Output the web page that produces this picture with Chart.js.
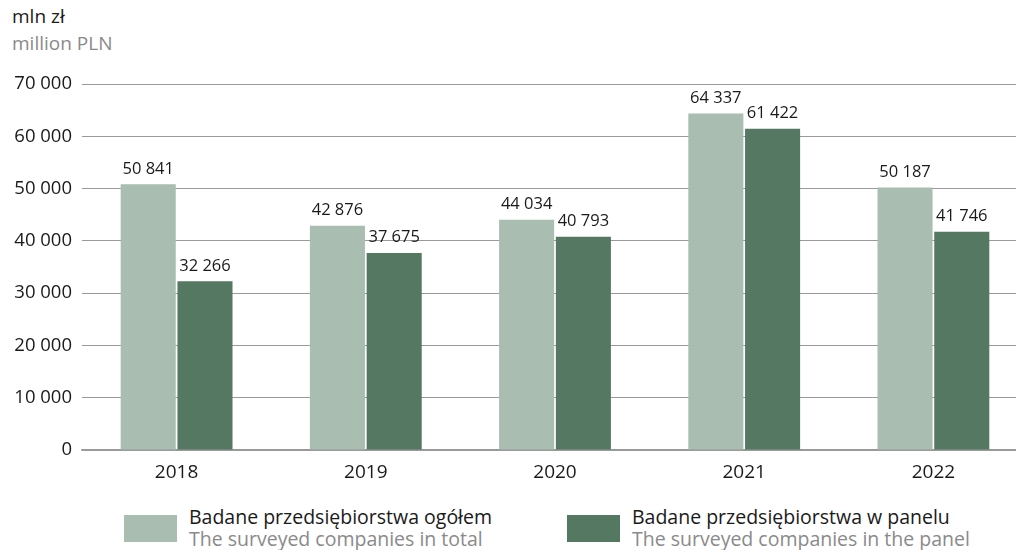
<!DOCTYPE html>
<html>
<head>
<meta charset="utf-8">
<script src="https://cdn.jsdelivr.net/npm/chart.js"></script>
<style>
  html, body { margin: 0; padding: 0; background: #fff; overflow: hidden; }
  body { width: 1016px; height: 550px; position: relative; font-family: "Open Sans", sans-serif; }
  #wrap { position: absolute; left: 0; top: 0; width: 1028px; height: 490px; }
  .unit { position: absolute; left: 12px; font-size: 19px; line-height: 22px; }
  .leg { position: absolute; top: 506px; font-size: 19.5px; line-height: 22px; }
  .leg .box { position: absolute; left: 0; top: 9px; width: 53px; height: 27px; }
  .leg .t1 { position: absolute; top: 0; white-space: nowrap; color: #1a1a1a; }
  .leg .t2 { position: absolute; top: 22px; white-space: nowrap; color: #8a8a8a; }
</style>
</head>
<body>
<div class="unit" style="top:5px;color:#1a1a1a">mln zł</div>
<div class="unit" style="top:32px;color:#8a8a8a">million PLN</div>
<div id="wrap"><canvas id="myChart"></canvas></div>
<div class="leg" style="left:124px">
  <div class="box" style="background:#a9bdb1"></div>
  <div class="t1" style="left:65px">Badane przedsiębiorstwa ogółem</div>
  <div class="t2" style="left:65px">The surveyed companies in total</div>
</div>
<div class="leg" style="left:567px">
  <div class="box" style="background:#557862"></div>
  <div class="t1" style="left:65px">Badane przedsiębiorstwa w panelu</div>
  <div class="t2" style="left:65px">The surveyed companies in the panel</div>
</div>
<script>
const years = ['2018', '2019', '2020', '2021', '2022'];
const total = [50841, 42876, 44034, 64337, 50187];
const panel = [32266, 37675, 40793, 61422, 41746];
const yTicks = [0, 10000, 20000, 30000, 40000, 50000, 60000, 70000];

const fmt = v => String(v).replace(/\B(?=(\d{3})+(?!\d))/g, ' ');

const valueLabels = {
  id: 'valueLabels',
  afterDatasetsDraw(chart) {
    const ctx = chart.ctx;
    ctx.save();
    ctx.font = '16.5px "Open Sans"';
    ctx.fillStyle = '#1a1a1a';
    ctx.textAlign = 'center';
    ctx.textBaseline = 'bottom';
    chart.data.datasets.forEach((ds, i) => {
      chart.getDatasetMeta(i).data.forEach((bar, j) => {
        ctx.fillText(fmt(ds.data[j]), bar.x, bar.y - 7);
      });
    });
    ctx.restore();
  }
};

new Chart(document.getElementById('myChart'), {
  type: 'bar',
  data: {
    labels: years,
    datasets: [
      { label: 'Badane przedsiębiorstwa ogółem', data: total, backgroundColor: '#a9bdb1' },
      { label: 'Badane przedsiębiorstwa w panelu', data: panel, backgroundColor: '#557862' }
    ]
  },
  options: {
    responsive: true,
    maintainAspectRatio: false,
    animation: false,
    layout: { padding: { top: 84, right: 0, left: 0, bottom: 0 } },
    categoryPercentage: 0.6,
    barPercentage: 0.97,
    plugins: { legend: { display: false }, tooltip: { enabled: false } },
    scales: {
      x: {
        grid: { display: false },
        border: { color: '#999', width: 1.5 },
        ticks: { color: '#1a1a1a', font: { family: 'Open Sans', size: 19 }, padding: 3 },
        afterFit(s) { s.height = 40; }
      },
      y: {
        min: 0, max: 70000,
        afterBuildTicks(s) { s.ticks = yTicks.map(v => ({ value: v })); },
        grid: { color: '#9a9a9a', lineWidth: 1, drawTicks: false },
        border: { display: false },
        ticks: { color: '#1a1a1a', font: { family: 'Open Sans', size: 18.5 }, padding: 10, callback: v => fmt(v) },
        afterFit(s) { s.width = 82; }
      }
    }
  },
  plugins: [valueLabels]
});
</script>
</body>
</html>
